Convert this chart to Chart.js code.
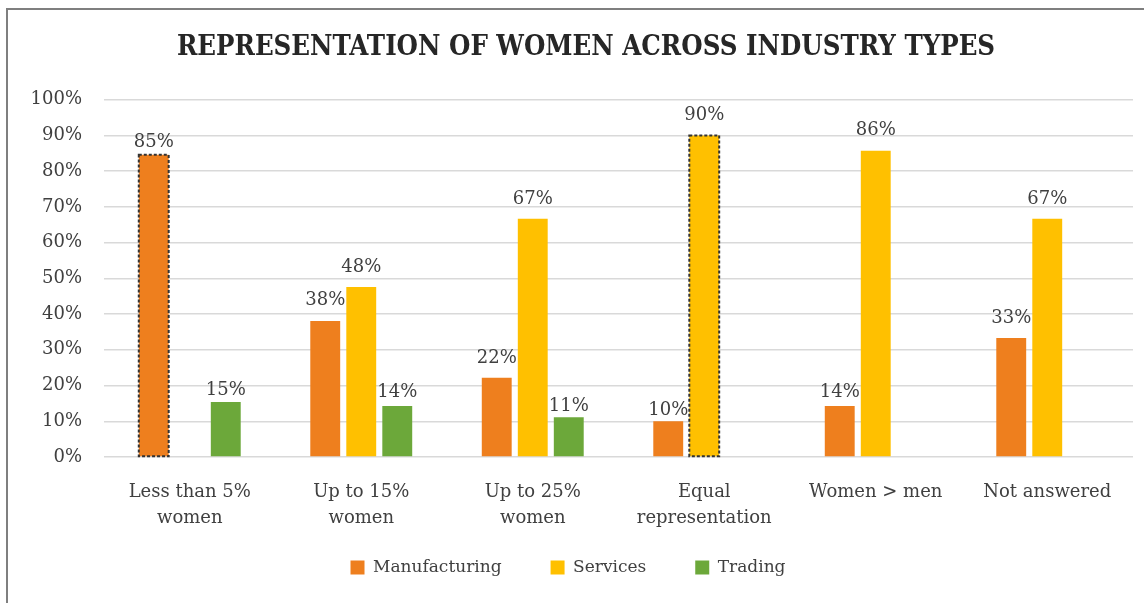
<!DOCTYPE html>
<html>
<head>
<meta charset="utf-8">
<script src="https://cdn.jsdelivr.net/npm/chart.js@4.4.1/dist/chart.umd.min.js"></script>
<style>
  html, body { margin: 0; padding: 0; background: #ffffff; }
  #wrap { position: relative; width: 1144px; height: 603px; }
  canvas { display: block; }
</style>
</head>
<body>
<div id="wrap"><canvas id="c" width="1144" height="603"></canvas></div>
<script>
// ---- Data ----
const categories = [
  ["Less than 5%", "women"],
  ["Up to 15%", "women"],
  ["Up to 25%", "women"],
  ["Equal", "representation"],
  ["Women > men"],
  ["Not answered"]
];
const seriesNames = ["Manufacturing", "Services", "Trading"];
const manufacturing = [84.6, 38.1, 22.2, 10.0, 14.3, 33.3];
const services      = [null, 47.6, 66.7, 90.0, 85.7, 66.7];
const trading       = [15.4, 14.3, 11.1, null, null, null];
const yTicks = [0, 10, 20, 30, 40, 50, 60, 70, 80, 90, 100];
// bars drawn with a dashed outline: [seriesIndex, categoryIndex]
const outlinedBars = [[0, 0], [1, 3]];
// gap (px) between each value label's baseline and its bar top, per series
const labelGaps = [
  [8, 16, 15, 6, 9, 15],
  [15, 15, 15, 15, 16, 15],
  [7, 9, 6, 15, 15, 15]
];

const FONT = "'DejaVu Serif', 'Liberation Serif', serif";
const TITLE_FONT = "'DejaVu Serif Condensed', 'DejaVu Serif', serif";
const TEXT = '#404040';

// scales whose tick labels may overflow their layout box (no label clipping)
class OpenCategoryScale extends Chart.CategoryScale {
  static id = 'openCategory';
  _computeLabelArea() { return undefined; }
}
class OpenLinearScale extends Chart.LinearScale {
  static id = 'openLinear';
  _computeLabelArea() { return undefined; }
}
Chart.register(OpenCategoryScale, OpenLinearScale);

const frame = {
  id: 'frame',
  afterLayout(chart) {
    if (chart.legend) { chart.legend.left -= 18; chart.legend.right -= 18; }
  },
  beforeDraw(chart) {
    const ctx = chart.ctx;
    ctx.save();
    ctx.fillStyle = '#ffffff';
    ctx.fillRect(0, 0, chart.width, chart.height);
    ctx.strokeStyle = '#7f7f7f';
    ctx.lineWidth = 2;
    ctx.beginPath();
    ctx.moveTo(7, chart.height + 2);
    ctx.lineTo(7, 9);
    ctx.lineTo(chart.width + 2, 9);
    ctx.stroke();
    ctx.restore();
  }
};

const valueLabels = {
  id: 'valueLabels',
  afterDatasetsDraw(chart) {
    const ctx = chart.ctx;
    ctx.save();
    // dashed outlines
    ctx.strokeStyle = '#333333';
    ctx.lineWidth = 2;
    ctx.setLineDash([3, 2]);
    outlinedBars.forEach(([di, i]) => {
      const el = chart.getDatasetMeta(di).data[i];
      if (!el) return;
      const p = el.getProps(['x', 'y', 'base', 'width'], true);
      ctx.strokeRect(p.x - p.width / 2, p.y, p.width, p.base - p.y);
    });
    ctx.setLineDash([]);
    ctx.font = '18px ' + FONT;
    ctx.fillStyle = TEXT;
    ctx.textAlign = 'center';
    ctx.textBaseline = 'alphabetic';
    chart.data.datasets.forEach((ds, di) => {
      const meta = chart.getDatasetMeta(di);
      meta.data.forEach((el, i) => {
        const v = ds.data[i];
        if (v === null || v === undefined) return;
        const p = el.getProps(['x', 'y'], true);
        ctx.fillText(Math.round(v) + '%', p.x, p.y - labelGaps[di][i]);
      });
    });
    ctx.restore();
  }
};

new Chart(document.getElementById('c'), {
  type: 'bar',
  data: {
    labels: categories,
    datasets: [
      { label: seriesNames[0], data: manufacturing, backgroundColor: '#EE7F1E' },
      { label: seriesNames[1], data: services, backgroundColor: '#FFC000' },
      { label: seriesNames[2], data: trading, backgroundColor: '#6CA83A' }
    ]
  },
  options: {
    responsive: false,
    animation: false,
    devicePixelRatio: 1,
    layout: { padding: { left: 39, right: 11, top: 0, bottom: 17 } },
    datasets: { bar: { categoryPercentage: 0.63, barPercentage: 0.83 } },
    scales: {
      x: {
        type: 'openCategory',
        grid: { display: false, drawTicks: false },
        border: { display: false },
        ticks: { font: { family: FONT, size: 18, lineHeight: 1.45 }, color: TEXT, padding: 22, maxRotation: 0, autoSkip: false },
        afterFit(axis) { axis.height = 53; }
      },
      y: {
        type: 'openLinear',
        min: 0, max: 100,
        afterBuildTicks(axis) { axis.ticks = yTicks.map(v => ({ value: v })); },
        grid: { color: '#d9d9d9', lineWidth: 1.5, drawTicks: false },
        border: { display: false },
        ticks: { font: { family: FONT, size: 18 }, color: TEXT, padding: 22, callback: v => v + '%' },
        afterFit(axis) { axis.width = 65; }
      }
    },
    plugins: {
      title: {
        display: true,
        text: 'REPRESENTATION OF WOMEN ACROSS INDUSTRY TYPES',
        font: { family: TITLE_FONT, weight: 'bold', size: 27.3 },
        color: '#262626',
        padding: { top: 32, bottom: 35 }
      },
      legend: {
        position: 'bottom',
        labels: { font: { family: FONT, size: 17 }, color: TEXT, boxWidth: 14, boxHeight: 14, padding: 49 }
      },
      tooltip: { enabled: false }
    }
  },
  plugins: [frame, valueLabels]
});
</script>
</body>
</html>
